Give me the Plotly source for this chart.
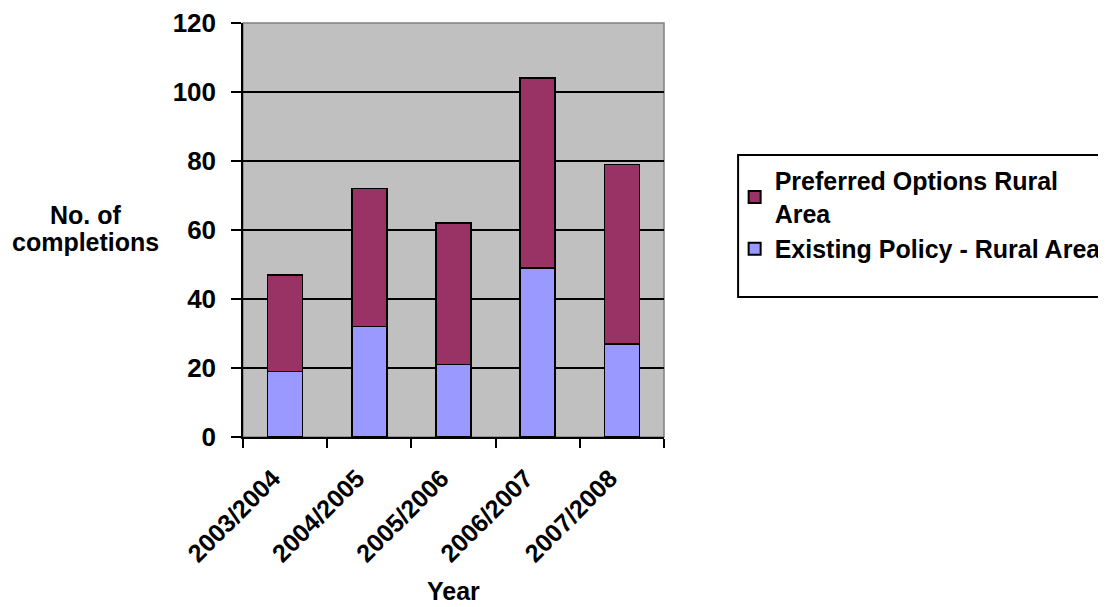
import plotly.graph_objects as go

years = ["2003/2004", "2004/2005", "2005/2006", "2006/2007", "2007/2008"]
existing = [19, 32, 21, 49, 27]
preferred = [28, 40, 41, 55, 52]

FONT = "Liberation Sans, Arial, sans-serif"

fig = go.Figure()
fig.add_trace(go.Bar(
    x=years, y=existing, name="Existing Policy - Rural Area",
    marker=dict(color="#9999FF", line=dict(color="black", width=1.5)),
))
fig.add_trace(go.Bar(
    x=years, y=preferred, name="Preferred Options Rural<br>Area",
    marker=dict(color="#993366", line=dict(color="black", width=1.5)),
))

# page body has an 8px default margin, so offsets are reduced by 8px
fig.update_layout(
    barmode="stack",
    bargap=0.585,
    width=1106, height=607,
    margin=dict(l=235, r=450, t=15, b=178, autoexpand=False),
    paper_bgcolor="white",
    plot_bgcolor="#C0C0C0",
    font=dict(family=FONT, color="black", size=25, weight="bold"),
    showlegend=True,
    legend=dict(
        xref="container", yref="container",
        x=0.657, xanchor="left", y=0.753, yanchor="top",
        traceorder="reversed",
        borderwidth=0,
        bgcolor="rgba(0,0,0,0)",
        font=dict(family=FONT, size=25, weight="bold"),
        itemsizing="constant",
        itemwidth=30,
        tracegroupgap=0,
    ),
    xaxis=dict(
        automargin=False,
        tickangle=-45,
        tickfont=dict(family=FONT, size=25, weight="bold"),
        showline=True, linecolor="black", linewidth=1.5,
        ticks="outside", ticklen=9, tickcolor="black", tickwidth=1.5,
        tickson="boundaries",
        ticklabelstandoff=15,
        ticklabelshift=-12,
        showgrid=False,
        mirror=False,
    ),
    yaxis=dict(
        automargin=False,
        range=[0, 120], dtick=20,
        tickfont=dict(family=FONT, size=26, weight="bold"),
        showline=True, linecolor="black", linewidth=1.5,
        ticks="outside", ticklen=10, tickcolor="black", tickwidth=1.5,
        ticklabelstandoff=10,
        showgrid=True, gridcolor="black", gridwidth=1.5,
        zeroline=False,
    ),
    annotations=[
        dict(text="No. of", x=-0.374, y=0.536,
             xref="paper", yref="paper", showarrow=False,
             xanchor="center", yanchor="middle",
             font=dict(family=FONT, size=25, weight="bold")),
        dict(text="completions", x=-0.374, y=0.471,
             xref="paper", yref="paper", showarrow=False,
             xanchor="center", yanchor="middle",
             font=dict(family=FONT, size=25, weight="bold")),
        dict(text="Year", x=0.50, y=-0.371,
             xref="paper", yref="paper", showarrow=False,
             xanchor="center", yanchor="middle",
             font=dict(family=FONT, size=25, weight="bold")),
    ],
    shapes=[
        dict(type="rect", xref="paper", yref="paper", x0=0, y0=0, x1=1, y1=1,
             line=dict(color="#808080", width=1.5), layer="below"),
        dict(type="rect", xref="paper", yref="paper", x0=1.176, y0=0.338, x1=2.2, y1=0.681,
             line=dict(color="black", width=2), fillcolor="white", layer="below"),
    ],
)
fig.write_html("out.html")
